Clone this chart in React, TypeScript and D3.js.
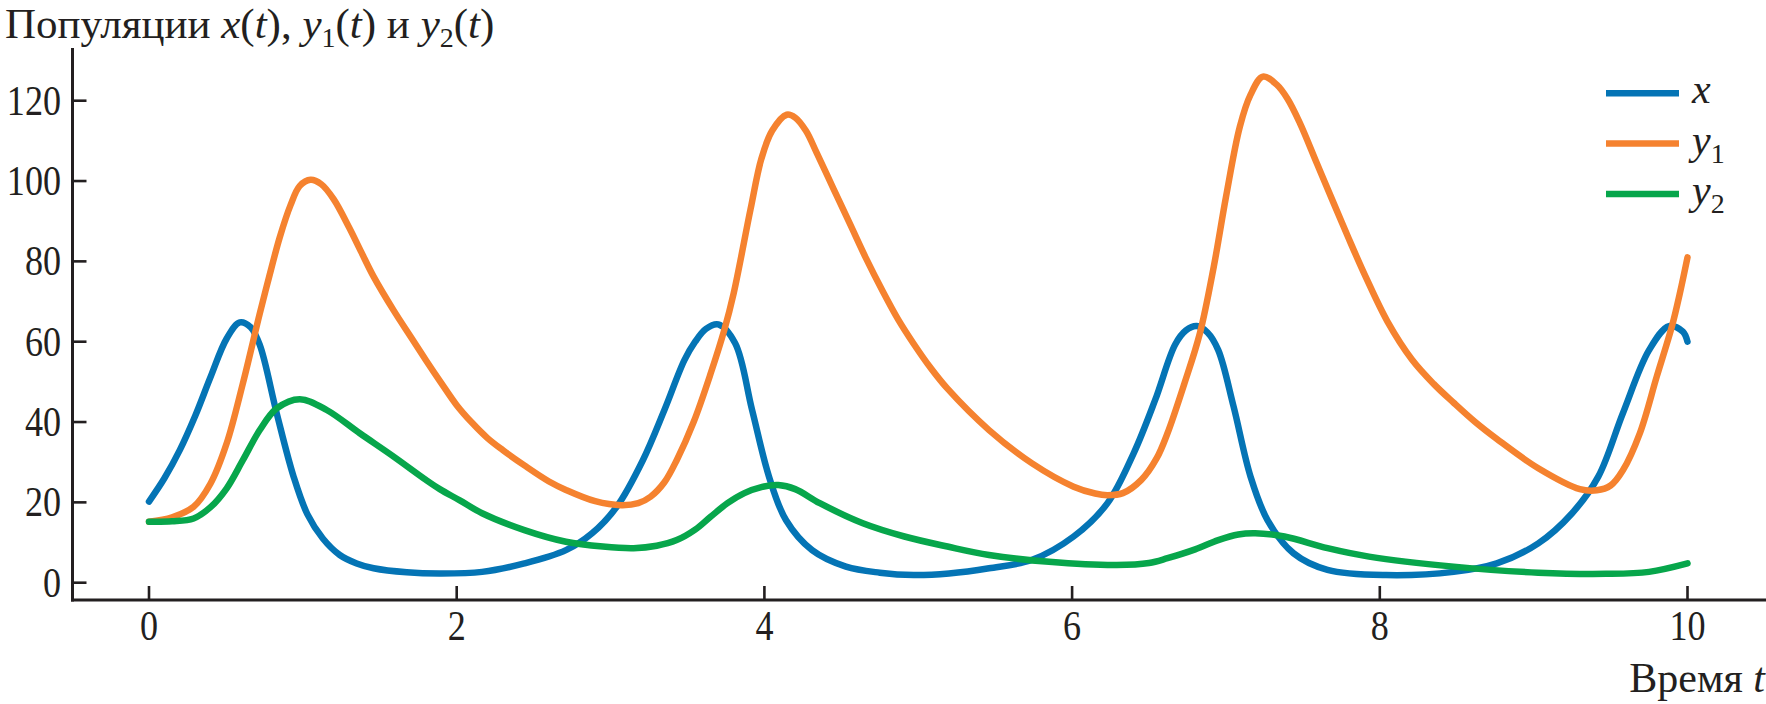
import React from "react";
import * as d3 from "d3";

// ---------- data ----------
const xTimes = [0, 0.1, 0.2, 0.3, 0.4, 0.505, 0.59, 0.66, 0.72, 0.83, 0.94, 1.03, 1.13, 1.24, 1.35, 1.46, 1.675, 1.89, 2.165, 2.44, 2.71, 2.88, 3.04, 3.21, 3.35, 3.48, 3.55, 3.62, 3.7, 3.81, 3.92, 4.03, 4.14, 4.31, 4.53, 4.75, 4.97, 5.2, 5.46, 5.74, 6.01, 6.23, 6.4, 6.54, 6.67, 6.74, 6.81, 6.88, 6.95, 7.05, 7.16, 7.27, 7.44, 7.66, 8.04, 8.48, 8.76, 9.03, 9.25, 9.42, 9.58, 9.75, 9.88, 9.97, 10.0];
const xValues = [20.2, 26, 33, 41.5, 51.2, 60.8, 64.8, 63.6, 59.2, 42.2, 26.4, 17, 11, 6.9, 4.8, 3.6, 2.6, 2.3, 2.7, 4.8, 8.1, 12.3, 18.9, 30.5, 43, 55.4, 60, 63.2, 64.3, 59.6, 43, 26.4, 15.6, 8.1, 4.0, 2.5, 1.9, 2.3, 3.6, 5.7, 11.5, 19.8, 32.2, 45.5, 59.3, 62.8, 63.9, 62.3, 57.9, 43.8, 26.4, 15.6, 7.3, 3.2, 1.9, 2.7, 4.8, 9.8, 17.3, 26.4, 42.2, 57.9, 63.9, 62.5, 60];

const y1Times = [0, 0.15, 0.29, 0.4, 0.505, 0.61, 0.72, 0.78, 0.85, 0.92, 0.98, 1.05, 1.12, 1.2, 1.3, 1.38, 1.46, 1.59, 1.7, 1.8, 1.9, 2.0, 2.1, 2.2, 2.3, 2.44, 2.6, 2.71, 2.9, 3.07, 3.18, 3.26, 3.35, 3.43, 3.54, 3.65, 3.74, 3.8, 3.91, 3.98, 4.05, 4.145, 4.2, 4.27, 4.34, 4.45, 4.56, 4.66, 4.77, 4.87, 4.97, 5.08, 5.19, 5.46, 5.74, 6.01, 6.15, 6.23, 6.33, 6.45, 6.55, 6.62, 6.73, 6.83, 6.92, 7.0, 7.09, 7.16, 7.24, 7.33, 7.4, 7.48, 7.59, 7.7, 7.8, 7.91, 8.05, 8.21, 8.35, 8.48, 8.62, 8.76, 9.03, 9.3, 9.41, 9.5, 9.58, 9.69, 9.8, 9.9, 9.95, 10.0];
const y1Values = [15.2, 16.3, 18.9, 24.7, 34.7, 49.6, 67, 76, 86, 94, 98.8, 100.3, 99.2, 95.5, 88.5, 82.3, 76.2, 67.8, 61.3, 55.4, 49.7, 44.2, 39.8, 36, 33, 29.2, 25.2, 23.1, 20.3, 19.3, 19.8, 21.4, 25, 30.5, 40, 52, 63, 72, 93, 105.5, 112.5, 116.5, 115.8, 112.5, 107, 98, 89, 80.8, 72.5, 65.5, 59.5, 53.5, 48.3, 38, 29.7, 23.9, 22.2, 21.8, 22.3, 25.6, 31, 37.2, 49.6, 62, 78.5, 96, 113.5, 121.5, 126, 124, 120.5, 114.5, 104.5, 94.5, 85.5, 76, 65, 55.5, 49.5, 44.8, 40, 35.8, 28.5, 23.3, 23.0, 24.2, 28, 37.2, 51.3, 64, 72, 81];

const y2Times = [0, 0.15, 0.29, 0.4, 0.505, 0.61, 0.72, 0.83, 0.98, 1.155, 1.37, 1.59, 1.8, 1.89, 2.02, 2.165, 2.44, 2.71, 2.95, 3.15, 3.3, 3.43, 3.55, 3.65, 3.76, 3.87, 3.98, 4.09, 4.2, 4.36, 4.64, 4.91, 5.19, 5.46, 5.85, 6.29, 6.5, 6.62, 6.8, 6.95, 7.08, 7.19, 7.38, 7.66, 7.93, 8.48, 9.03, 9.47, 9.75, 10.0];
const y2Values = [15.2, 15.3, 16, 18.8, 23.5, 30.5, 38, 43.4, 45.7, 43, 37.2, 31.4, 25.6, 23.3, 20.5, 17.3, 13.1, 10.2, 9.0, 8.6, 9.2, 10.6, 13.2, 16.4, 19.8, 22.3, 23.8, 24.3, 23.3, 19.8, 14.8, 11.5, 9.0, 6.9, 5.2, 4.4, 4.9, 6.1, 8.3, 10.6, 12, 12.3, 11.5, 8.6, 6.5, 4.0, 2.5, 2.2, 2.7, 4.8];

const xTicks = [0, 2, 4, 6, 8, 10];
const yTicks = [0, 20, 40, 60, 80, 100, 120];

const seriesNames = ["x", "y1", "y2"];
const seriesColors = ["#0474b5", "#f5822f", "#07a64b"];

// ---------- component ----------
const W = 1766;
const H = 704;
const FONT = "'Liberation Serif', 'Times New Roman', serif";
const FS = 42;
const AXIS = "#231f20";
const NUM_SQUEEZE = 0.86;

export default function App() {
  const x = d3.scaleLinear().domain([0, 10]).range([149, 1687.5]);
  const y = d3.scaleLinear().domain([0, 120]).range([582.7, 100.7]);

  const line = d3
    .line<[number, number]>()
    .x((d) => x(d[0]))
    .y((d) => y(d[1]))
    .curve(d3.curveCatmullRom.alpha(0.5));

  const series = [
    xTimes.map((t, i) => [t, xValues[i]] as [number, number]),
    y1Times.map((t, i) => [t, y1Values[i]] as [number, number]),
    y2Times.map((t, i) => [t, y2Values[i]] as [number, number]),
  ];

  const axisX = 72.5;
  const axisY = 600;
  const subFS = 28;

  return (
    <svg
      width={W}
      height={H}
      viewBox={`0 0 ${W} ${H}`}
      style={{ position: "absolute", left: 0, top: 0, background: "#fff", fontFamily: FONT }}
      fontSize={FS}
      fill={AXIS}
    >
      <rect x={0} y={0} width={W} height={H} fill="#fff" />

      {/* title */}
      <text x={5} y={38} fontSize={43}>
        <tspan>Популяции </tspan>
        <tspan fontStyle="italic">x</tspan>
        <tspan>(</tspan>
        <tspan fontStyle="italic">t</tspan>
        <tspan>), </tspan>
        <tspan fontStyle="italic">y</tspan>
        <tspan fontSize={subFS} dy={9}>1</tspan>
        <tspan dy={-9}>(</tspan>
        <tspan fontStyle="italic">t</tspan>
        <tspan>) и </tspan>
        <tspan fontStyle="italic">y</tspan>
        <tspan fontSize={subFS} dy={9}>2</tspan>
        <tspan dy={-9}>(</tspan>
        <tspan fontStyle="italic">t</tspan>
        <tspan>)</tspan>
      </text>

      {/* axes */}
      <line x1={axisX} x2={axisX} y1={48} y2={axisY + 1.5} stroke={AXIS} strokeWidth={3} />
      <line x1={axisX - 1.5} x2={W} y1={axisY} y2={axisY} stroke={AXIS} strokeWidth={3} />

      {yTicks.map((v) => (
        <g key={"y" + v}>
          <line x1={axisX} x2={axisX + 14} y1={y(v)} y2={y(v)} stroke={AXIS} strokeWidth={2.6} />
          <text
            transform={`translate(61, ${y(v) + 14}) scale(${NUM_SQUEEZE}, 1)`}
            textAnchor="end"
          >
            {v}
          </text>
        </g>
      ))}

      {xTicks.map((t) => (
        <g key={"x" + t}>
          <line x1={x(t)} x2={x(t)} y1={axisY} y2={axisY - 14} stroke={AXIS} strokeWidth={2.6} />
          <text
            transform={`translate(${x(t)}, 639.5) scale(${NUM_SQUEEZE}, 1)`}
            textAnchor="middle"
          >
            {t}
          </text>
        </g>
      ))}

      <text x={1765} y={691.5} textAnchor="end">
        <tspan>Время </tspan>
        <tspan fontStyle="italic">t</tspan>
      </text>

      {/* series */}
      {series.map((pts, i) => (
        <path
          key={seriesNames[i]}
          d={line(pts) || ""}
          fill="none"
          stroke={seriesColors[i]}
          strokeWidth={6.5}
          strokeLinejoin="round"
          strokeLinecap="round"
        />
      ))}

      {/* legend */}
      {seriesNames.map((name, i) => {
        const ly = 93.3 + i * 50.3;
        return (
          <g key={"leg" + name}>
            <line x1={1606} x2={1679} y1={ly} y2={ly} stroke={seriesColors[i]} strokeWidth={6.5} />
            <text x={1692} y={ly + 10}>
              <tspan fontStyle="italic">{name[0]}</tspan>
              {name.length > 1 ? (
                <tspan fontSize={subFS} dy={9}>
                  {name.slice(1)}
                </tspan>
              ) : null}
            </text>
          </g>
        );
      })}
    </svg>
  );
}
